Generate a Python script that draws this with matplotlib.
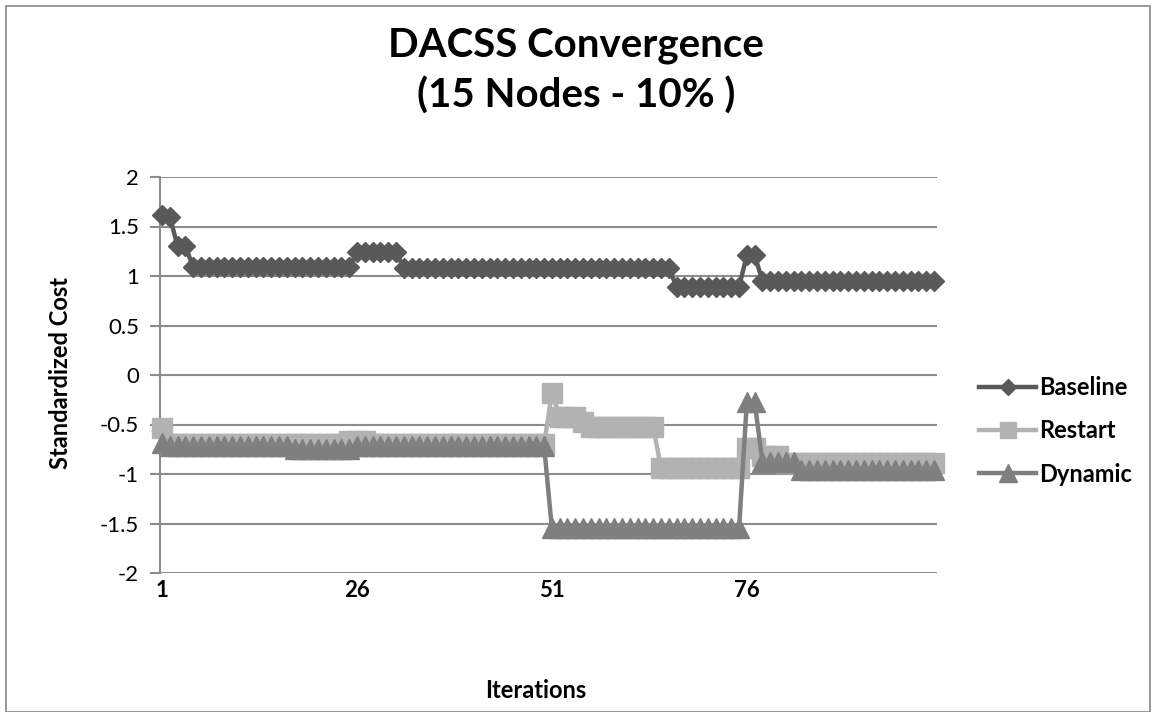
import matplotlib
matplotlib.use("Agg")
import matplotlib.pyplot as plt
from matplotlib.patches import Rectangle

plt.rcParams['font.family'] = ['Lato', 'DejaVu Sans']

# ---- data -------------------------------------------------------------
iterations = list(range(1, 101))

baseline = [
    1.62, 1.60, 1.30, 1.30, 1.09, 1.09, 1.09, 1.09, 1.09, 1.09,
    1.09, 1.09, 1.09, 1.09, 1.09, 1.09, 1.09, 1.09, 1.09, 1.09,
    1.09, 1.09, 1.09, 1.09, 1.09, 1.24, 1.24, 1.24, 1.24, 1.24,
    1.24, 1.08, 1.08, 1.08, 1.08, 1.08, 1.08, 1.08, 1.08, 1.08,
    1.08, 1.08, 1.08, 1.08, 1.08, 1.08, 1.08, 1.08, 1.08, 1.08,
    1.08, 1.08, 1.08, 1.08, 1.08, 1.08, 1.08, 1.08, 1.08, 1.08,
    1.08, 1.08, 1.08, 1.08, 1.08, 1.08, 0.89, 0.89, 0.89, 0.89,
    0.89, 0.89, 0.89, 0.89, 0.89, 1.21, 1.21, 0.95, 0.95, 0.95,
    0.95, 0.95, 0.95, 0.95, 0.95, 0.95, 0.95, 0.95, 0.95, 0.95,
    0.95, 0.95, 0.95, 0.95, 0.95, 0.95, 0.95, 0.95, 0.95, 0.95,
]

restart = [
    -0.54, -0.70, -0.70, -0.70, -0.70, -0.70, -0.70, -0.70, -0.70, -0.70,
    -0.70, -0.70, -0.70, -0.70, -0.70, -0.70, -0.70, -0.70, -0.70, -0.70,
    -0.70, -0.70, -0.70, -0.70, -0.67, -0.67, -0.67, -0.70, -0.70, -0.70,
    -0.70, -0.70, -0.70, -0.70, -0.70, -0.70, -0.70, -0.70, -0.70, -0.70,
    -0.70, -0.70, -0.70, -0.70, -0.70, -0.70, -0.70, -0.70, -0.70, -0.70,
    -0.18, -0.42, -0.42, -0.42, -0.47, -0.53, -0.53, -0.53, -0.53, -0.53,
    -0.53, -0.53, -0.53, -0.53, -0.94, -0.94, -0.94, -0.94, -0.94, -0.94,
    -0.94, -0.94, -0.94, -0.94, -0.94, -0.74, -0.74, -0.82, -0.82, -0.82,
    -0.89, -0.89, -0.89, -0.89, -0.89, -0.89, -0.89, -0.89, -0.89, -0.89,
    -0.89, -0.89, -0.89, -0.89, -0.89, -0.89, -0.89, -0.89, -0.89, -0.89,
]

dynamic = [
    -0.69, -0.72, -0.72, -0.72, -0.72, -0.72, -0.72, -0.72, -0.72, -0.72,
    -0.72, -0.72, -0.72, -0.72, -0.72, -0.72, -0.72, -0.75, -0.75, -0.75,
    -0.75, -0.75, -0.75, -0.75, -0.75, -0.72, -0.72, -0.72, -0.72, -0.72,
    -0.72, -0.72, -0.72, -0.72, -0.72, -0.72, -0.72, -0.72, -0.72, -0.72,
    -0.72, -0.72, -0.72, -0.72, -0.72, -0.72, -0.72, -0.72, -0.72, -0.72,
    -1.55, -1.55, -1.55, -1.55, -1.55, -1.55, -1.55, -1.55, -1.55, -1.55,
    -1.55, -1.55, -1.55, -1.55, -1.55, -1.55, -1.55, -1.55, -1.55, -1.55,
    -1.55, -1.55, -1.55, -1.55, -1.55, -0.27, -0.27, -0.88, -0.88, -0.88,
    -0.88, -0.88, -0.96, -0.96, -0.96, -0.96, -0.96, -0.96, -0.96, -0.96,
    -0.96, -0.96, -0.96, -0.96, -0.96, -0.96, -0.96, -0.96, -0.96, -0.96,
]

series_names = ['Baseline', 'Restart', 'Dynamic']
x_ticks = [1, 26, 51, 76]
y_ticks = [-2, -1.5, -1, -0.5, 0, 0.5, 1, 1.5, 2]
y_tick_labels = ['-2', '-1.5', '-1', '-0.5', '0', '0.5', '1', '1.5', '2']

title_lines = ['DACSS Convergence', '(15 Nodes - 10% )']
x_title = 'Iterations'
y_title = 'Standardized Cost'

# ---- figure -------------------------------------------------------------
W, H = 1154, 712
fig = plt.figure(figsize=(W / 100, H / 100), dpi=100)
fig.patch.set_facecolor('white')

ax = fig.add_axes([160 / W, 1 - 573 / H, 777 / W, 396 / H])
ax.set_xlim(0.744, 100.385)
ax.set_ylim(-2, 2)

grid_color = '#8c8c8c'
for side in ('top', 'right', 'bottom'):
    ax.spines[side].set_visible(False)
ax.spines['left'].set_color(grid_color)
ax.spines['left'].set_linewidth(1.5)

ax.set_yticks(y_ticks)
ax.set_yticklabels(y_tick_labels)
ax.yaxis.grid(True, color=grid_color, linewidth=1.5, zorder=0)
ax.set_axisbelow(True)
ax.tick_params(axis='y', length=7, width=1.5, color=grid_color,
               pad=8, labelsize=16, labelcolor='black')

ax.set_xticks(x_ticks)
ax.set_xticklabels([str(t) for t in x_ticks], fontweight='bold')
ax.tick_params(axis='x', length=0, pad=5, labelsize=16, labelcolor='black')

styles = [
    dict(color='#595959', marker='D', ms=10),
    dict(color='#b2b2b2', marker='s', ms=14),
    dict(color='#7f7f7f', marker='^', ms=14.5),
]
for name, values, st in zip(series_names, [baseline, restart, dynamic], styles):
    ax.plot(iterations, values, color=st['color'], lw=3.2,
            marker=st['marker'], ms=st['ms'], mec=st['color'],
            mfc=st['color'], label=name, zorder=3, clip_on=False)

fig.legend(*ax.get_legend_handles_labels(), loc='center left',
           bbox_to_anchor=(958 / W, 1 - 431 / H), frameon=False,
           prop=dict(weight='bold', size=17), handlelength=2.4,
           labelspacing=0.85, handletextpad=0.15, markerscale=0.85)

fig.text(576 / W, 1 - 46 / H, title_lines[0], ha='center', va='center',
         fontsize=29, fontweight='bold')
fig.text(576 / W, 1 - 96 / H, title_lines[1], ha='center', va='center',
         fontsize=29, fontweight='bold')
fig.text(60 / W, 1 - 373 / H, y_title, rotation=90, ha='center',
         va='center', fontsize=17, fontweight='bold')
fig.text(536 / W, 1 - 691 / H, x_title, ha='center', va='center',
         fontsize=17, fontweight='bold')

fig.patches.append(Rectangle((6 / W, 0), 1144 / W, 706 / H,
                             transform=fig.transFigure, fill=False,
                             edgecolor='#868686', linewidth=1.2))

fig.savefig('out.png', dpi=100)
